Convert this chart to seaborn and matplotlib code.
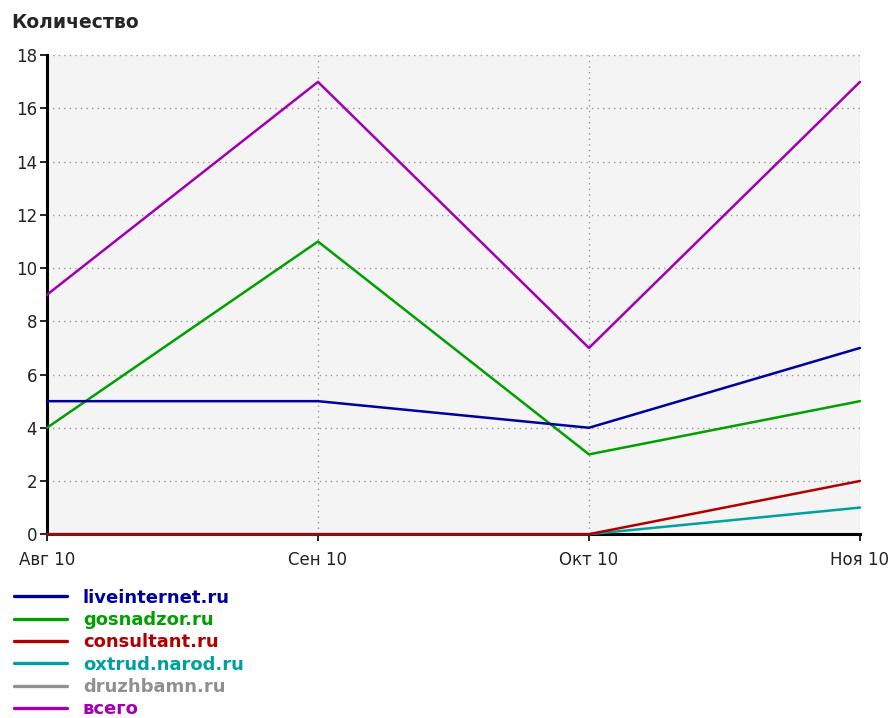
import matplotlib
matplotlib.use("Agg")
import matplotlib.pyplot as plt
from matplotlib.lines import Line2D
import pandas as pd
import seaborn as sns

months = ["Авг 10", "Сен 10", "Окт 10", "Ноя 10"]
sites = ["liveinternet.ru", "gosnadzor.ru", "consultant.ru",
         "oxtrud.narod.ru", "druzhbamn.ru", "всего"]
liveinternet = [5, 5, 4, 7]
gosnadzor = [4, 11, 3, 5]
consultant = [0, 0, 0, 2]
oxtrud = [0, 0, 0, 1]
druzhbamn = [0, 0, 0, 0]
total = [9, 17, 7, 17]
colors = ["#00009c", "#00a000", "#b00000", "#00a0a0", "#909090", "#a000b0"]

series = [liveinternet, gosnadzor, consultant, oxtrud, druzhbamn, total]
rows = []
for name, vals in zip(sites, series):
    for i, v in enumerate(vals):
        rows.append({"site": name, "pos": i, "count": v})
df = pd.DataFrame(rows)
palette = dict(zip(sites, colors))

sns.set_style("white")
plt.rcParams["font.family"] = ["DejaVu Sans"]

fig = plt.figure(figsize=(8.93, 7.18), dpi=100)
ax = fig.add_axes([0.0526, 0.256, 0.9104, 0.667])
ax.set_facecolor("#f4f4f4")

# reverse draw order so the small series sit on top at zero
sns.lineplot(data=df, x="pos", y="count", hue="site", hue_order=sites[::-1],
             palette=palette, linewidth=1.8, legend=False, ax=ax)
for line, name in zip(ax.lines, sites[::-1]):
    # the all-zero series stays hidden under the axis line
    line.set_zorder(2 if name == "druzhbamn.ru" else 3)
    line.set_clip_on(False)

ax.set_xlim(0, 3)
ax.set_ylim(0, 18)
ax.set_xticks(range(len(months)))
ax.set_xticklabels(months)
ax.set_yticks(range(0, 19, 2))
ax.set_xlabel("")
ax.set_ylabel("")
ax.grid(True, linestyle=(0, (1, 3)), color="#999999", linewidth=1)
ax.tick_params(axis="both", direction="out", length=5, width=1.2,
               color="black", labelsize=12, pad=2, bottom=True, left=True,
               labelcolor="#222222")
ax.tick_params(axis="x", pad=7)
for side in ["top", "right"]:
    ax.spines[side].set_visible(False)
for side in ["left", "bottom"]:
    ax.spines[side].set_color("black")
    ax.spines[side].set_linewidth(2.2)

fig.text(0.013, 0.968, "Количество", fontsize=13.5, fontweight="bold",
         va="center", ha="left")

handles = [Line2D([0], [0], color=c, linewidth=2.4) for c in colors]
fig.legend(handles, sites, loc="upper left", bbox_to_anchor=(0.016, 0.180),
           frameon=False, handlelength=2.9, handletextpad=0.9,
           labelspacing=0.24, borderpad=0, borderaxespad=0, labelcolor=colors,
           prop={"weight": "bold", "size": 13})

fig.savefig("out.png", dpi=100)
